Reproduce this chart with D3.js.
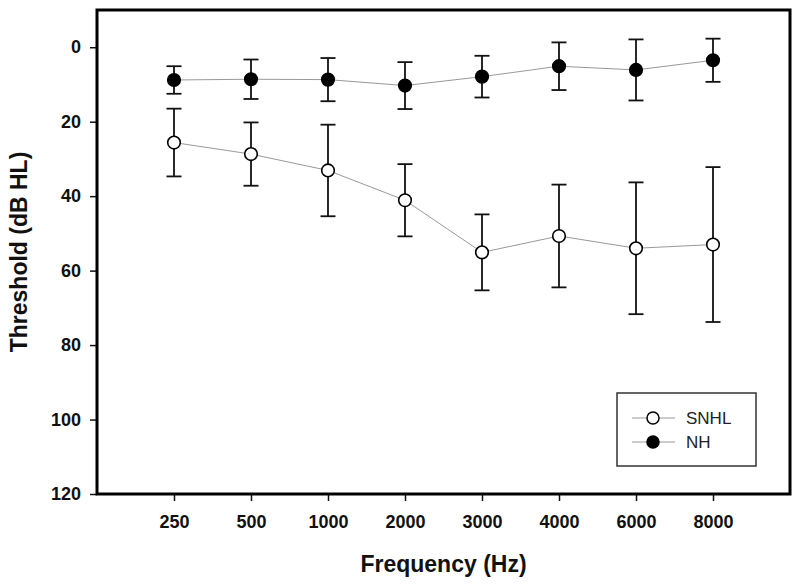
<!DOCTYPE html>
<html><head><meta charset="utf-8">
<script src="https://cdn.jsdelivr.net/npm/d3@7"></script>
<style>
html,body{margin:0;padding:0;background:#fff;}
svg text{font-family:"Liberation Sans",Arial,sans-serif;}
</style></head>
<body><svg id="c" width="800" height="585"></svg>
<script>
const frequencies = ["250","500","1000","2000","3000","4000","6000","8000"];
const snhlMean = [25.6, 28.7, 33.1, 41.1, 55.1, 50.7, 54.0, 53.0];
const snhlSD   = [9.1, 8.5, 12.3, 9.7, 10.2, 13.8, 17.7, 20.8];
const nhMean   = [8.8, 8.6, 8.7, 10.3, 7.9, 5.1, 6.1, 3.5];
const nhSD     = [3.7, 5.3, 5.8, 6.3, 5.6, 6.4, 8.2, 5.8];
const yTicks = [0, 20, 40, 60, 80, 100, 120];
const seriesNames = ["SNHL", "NH"];

const svg = d3.select("#c");
const L = 97, R = 790, T = 10, B = 494;
const x = d3.scalePoint().domain(frequencies).range([L, R]).padding(1);
const y = d3.scaleLinear().domain([-10, 120]).range([T, B]);

// axes
const yAx = svg.append("g").attr("transform", `translate(${L},0)`)
  .call(d3.axisLeft(y).tickValues(yTicks).tickSize(7).tickPadding(9));
const xAx = svg.append("g").attr("transform", `translate(0,${B})`)
  .call(d3.axisBottom(x).tickSize(7).tickPadding(14));
[yAx, xAx].forEach(g => {
  g.select(".domain").remove();
  g.selectAll(".tick line").attr("stroke", "#111").attr("stroke-width", 1.5);
  g.selectAll(".tick text").attr("fill", "#111").style("font-size", "18px").style("font-weight", "bold")
    .style("font-family", "'Liberation Sans', Arial, sans-serif");
});

// frame
svg.append("rect").attr("x", L).attr("y", T).attr("width", R - L).attr("height", B - T)
  .attr("fill", "none").attr("stroke", "#000").attr("stroke-width", 3);

// titles
svg.append("text").attr("x", (L + R) / 2).attr("y", 572).attr("text-anchor", "middle")
  .style("font-size", "23px").style("font-weight", "bold").attr("fill", "#111").text("Frequency (Hz)");
svg.append("text").attr("transform", `translate(27,${(T + B) / 2}) rotate(-90)`).attr("text-anchor", "middle")
  .style("font-size", "23px").style("font-weight", "bold").attr("fill", "#111").text("Threshold (dB HL)");

function drawSeries(means, sds, fill) {
  const data = frequencies.map((f, i) => ({ f, m: means[i], s: sds[i] }));
  const line = d3.line().x(d => x(d.f)).y(d => y(d.m));
  svg.append("path").datum(data).attr("d", line).attr("fill", "none")
    .attr("stroke", "#999").attr("stroke-width", 1);
  const g = svg.append("g");
  const cap = 7.5;
  data.forEach(d => {
    const cx = x(d.f), y0 = y(d.m - d.s), y1 = y(d.m + d.s);
    g.append("line").attr("x1", cx).attr("x2", cx).attr("y1", y0).attr("y2", y1)
      .attr("stroke", "#111").attr("stroke-width", 1.8);
    [y0, y1].forEach(yy => g.append("line").attr("x1", cx - cap).attr("x2", cx + cap)
      .attr("y1", yy).attr("y2", yy).attr("stroke", "#111").attr("stroke-width", 1.8));
  });
  g.selectAll("circle").data(data).join("circle")
    .attr("cx", d => x(d.f)).attr("cy", d => y(d.m)).attr("r", 6.3)
    .attr("fill", fill).attr("stroke", "#000").attr("stroke-width", 1.6);
}
drawSeries(snhlMean, snhlSD, "#fff");
drawSeries(nhMean, nhSD, "#000");

// legend
const lg = svg.append("g");
lg.append("rect").attr("x", 617).attr("y", 393).attr("width", 139).attr("height", 73)
  .attr("fill", "#fff").attr("stroke", "#333").attr("stroke-width", 1.5);
seriesNames.forEach((name, i) => {
  const yy = 418 + i * 24;
  lg.append("line").attr("x1", 632).attr("x2", 675).attr("y1", yy).attr("y2", yy)
    .attr("stroke", "#999").attr("stroke-width", 1);
  lg.append("circle").attr("cx", 653).attr("cy", yy).attr("r", 6)
    .attr("fill", i === 0 ? "#fff" : "#000").attr("stroke", "#000").attr("stroke-width", 1.5);
  lg.append("text").attr("x", 686).attr("y", yy + 6).style("font-size", "17px")
    .attr("fill", "#222").text(name);
});
</script>
</body></html>
